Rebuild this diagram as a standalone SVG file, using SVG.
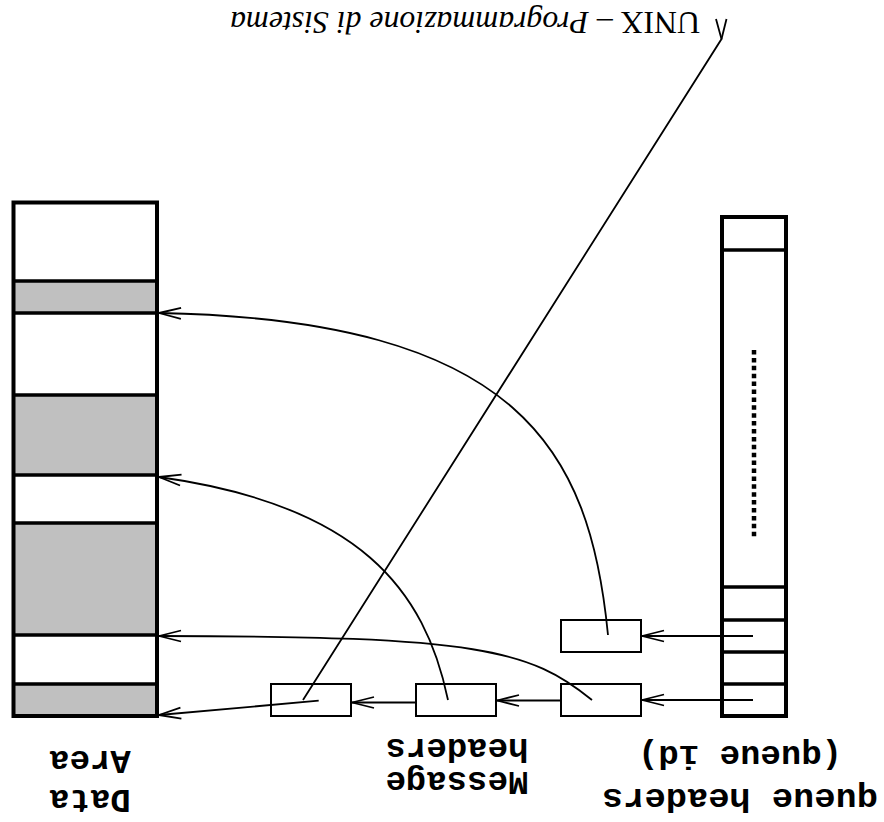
<svg xmlns="http://www.w3.org/2000/svg" width="884" height="822" viewBox="0 0 884 822">
<style>
.col{fill:none;stroke:#000;stroke-width:4}
.div{stroke:#000;stroke-width:3.6}
.grey{fill:#c0c0c0;stroke:none}
.box{fill:#fff;stroke:#000;stroke-width:2}
.conn{fill:none;stroke:#000;stroke-width:1.8}
.lbl{font-family:"Liberation Mono","DejaVu Sans Mono",monospace;font-weight:bold;font-size:34px;text-anchor:middle;fill:#000}
.title{font-family:"Liberation Serif","DejaVu Serif",serif;font-size:32px;fill:#000}
</style>
<defs>
<marker id="arr" markerUnits="userSpaceOnUse" markerWidth="30" markerHeight="20" refX="0" refY="0" viewBox="-25 -10 30 20" orient="auto" overflow="visible">
<path d="M-22,-5.5 L0,0 L-22,5.5" fill="none" stroke="#000" stroke-width="1.8"/>
</marker>
</defs>
<rect width="884" height="822" fill="#fff"/>
<text class="title" x="700" y="12" transform="rotate(180 700 12)" textLength="470" lengthAdjust="spacingAndGlyphs">UNIX – <tspan font-style="italic">Programmazione di Sistema</tspan></text>
<g id="data-area">
<rect class="grey" x="13.5" y="281" width="143.5" height="32"/>
<rect class="grey" x="13.5" y="395" width="143.5" height="80"/>
<rect class="grey" x="13.5" y="523" width="143.5" height="112"/>
<rect class="grey" x="13.5" y="684" width="143.5" height="32"/>
<line class="div" x1="13.5" y1="281" x2="157" y2="281"/>
<line class="div" x1="13.5" y1="313" x2="157" y2="313"/>
<line class="div" x1="13.5" y1="395" x2="157" y2="395"/>
<line class="div" x1="13.5" y1="475" x2="157" y2="475"/>
<line class="div" x1="13.5" y1="523" x2="157" y2="523"/>
<line class="div" x1="13.5" y1="635" x2="157" y2="635"/>
<line class="div" x1="13.5" y1="684" x2="157" y2="684"/>
<rect class="col" x="13.5" y="202.5" width="143.5" height="513.5"/>
<text class="lbl" x="90" y="790" transform="rotate(180 90 790)">Data</text>
<text class="lbl" x="90" y="751" transform="rotate(180 90 751)">Area</text>
</g>
<g id="queue-headers">
<line class="div" x1="722" y1="250" x2="786" y2="250"/>
<line class="div" x1="722" y1="587" x2="786" y2="587"/>
<line class="div" x1="722" y1="620" x2="786" y2="620"/>
<line class="div" x1="722" y1="652" x2="786" y2="652"/>
<line class="div" x1="722" y1="684" x2="786" y2="684"/>
<rect class="col" x="722" y="217" width="64" height="499"/>
<line x1="754" y1="350" x2="754" y2="539" stroke="#000" stroke-width="4.5" stroke-dasharray="4.5 3.4"/>
<text class="lbl" x="740" y="789" transform="rotate(180 740 789)" textLength="276" lengthAdjust="spacingAndGlyphs">queue headers</text>
<text class="lbl" x="740" y="746" transform="rotate(180 740 746)">(queue id)</text>
</g>
<g id="msg-a"><rect class="box" x="561" y="620" width="80" height="32"/></g>
<g id="msg-b"><rect class="box" x="561" y="684" width="80" height="32"/></g>
<g id="msg-c"><rect class="box" x="416" y="684" width="80" height="32"/></g>
<g id="msg-d"><rect class="box" x="271" y="684" width="80" height="32"/></g>
<g id="msg-label">
<text class="lbl" x="457" y="772" transform="rotate(180 457 772)">Message</text>
<text class="lbl" x="457" y="739" transform="rotate(180 457 739)">headers</text>
</g>
<g id="connectors">
<line class="conn" x1="753" y1="636" x2="642" y2="636" marker-end="url(#arr)"/>
<line class="conn" x1="753" y1="700" x2="642" y2="700" marker-end="url(#arr)"/>
<line class="conn" x1="561" y1="700.5" x2="497" y2="700.5" marker-end="url(#arr)"/>
<line class="conn" x1="416" y1="702.5" x2="352" y2="702.5" marker-end="url(#arr)"/>
<line class="conn" x1="318.7" y1="700.7" x2="159" y2="715" marker-end="url(#arr)"/>
<path class="conn" d="M608,635 C590,450 520,320 159,313" marker-end="url(#arr)"/>
<path class="conn" d="M448,700 C425,590 360,505 159,477" marker-end="url(#arr)"/>
<path class="conn" d="M592,700 C530,650 480,636 159,636" marker-end="url(#arr)"/>
<polyline class="conn" points="303,700 721.5,39 716,19"/>
<line class="conn" x1="721.5" y1="39" x2="726.5" y2="19"/>
</g>
</svg>
